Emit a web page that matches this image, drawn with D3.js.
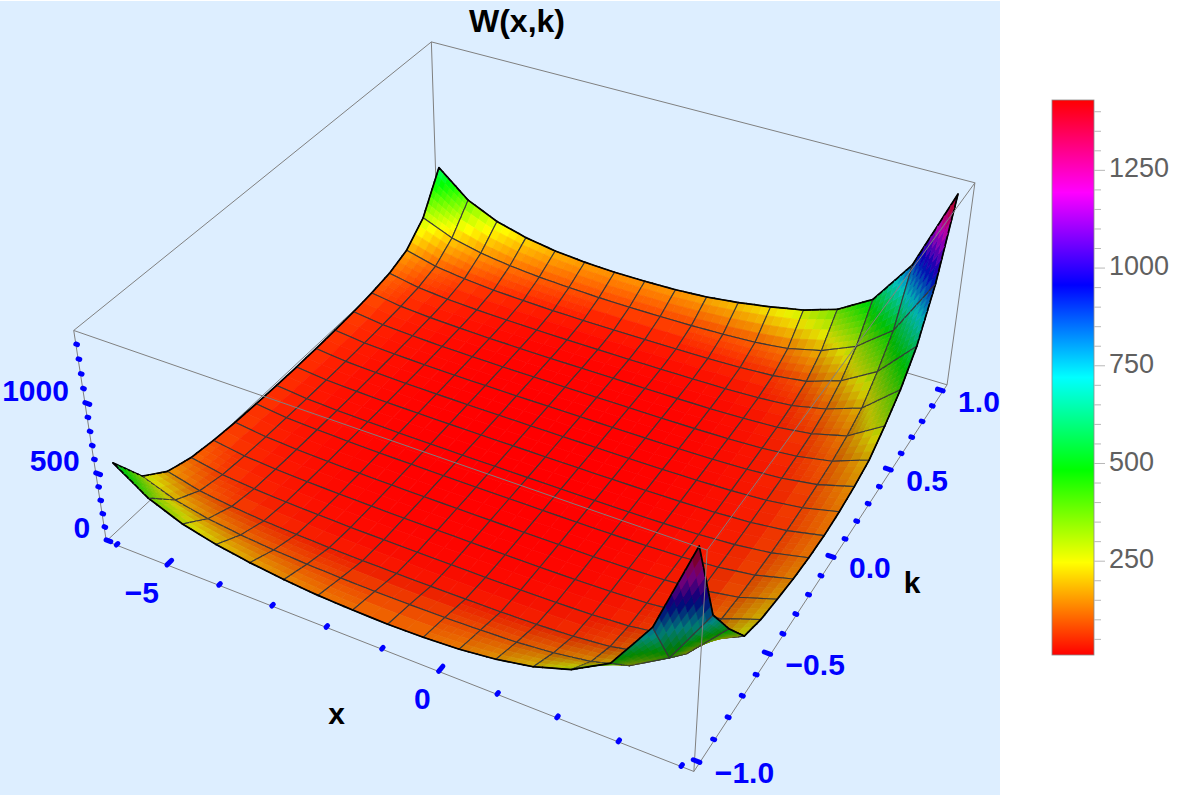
<!DOCTYPE html>
<html>
<head>
<meta charset="utf-8">
<script src="https://cdn.jsdelivr.net/npm/d3@7"></script>
<style>
  body { margin: 0; background: #fff; }
  svg { display: block; font-family: "Liberation Sans", Arial, sans-serif; }
</style>
</head>
<body>
<div id="chart"></div>
<script>
// grid the surface is sampled on
var xs = [-6, -5.375, -4.75, -4.125, -3.5, -2.875, -2.25, -1.625, -1, -0.375, 0.25, 0.875, 1.5, 2.125, 2.75, 3.375, 4];
var ks = [-1, -0.875, -0.75, -0.625, -0.5, -0.375, -0.25, -0.125, 0, 0.125, 0.25, 0.375, 0.5, 0.625, 0.75, 0.875, 1];

// W(x,k), one row per k value (k = -1 first)
var wRows = [
  [550, 380, 280, 220, 180, 150, 130, 120, 115, 120, 135, 165, 215, 300, 450, 800, 1430],
  [290, 200, 150, 120, 100, 88, 80, 77, 77, 80, 88, 100, 125, 165, 240, 400, 800],
  [165, 105, 75, 56, 45, 38, 34, 33, 33, 35, 38, 45, 58, 85, 140, 240, 520],
  [110, 66, 45, 33, 26, 21, 19, 18, 18, 19, 21, 25, 33, 50, 88, 150, 280],
  [85, 50, 34, 25, 19, 16, 14, 14, 14, 14, 15, 18, 25, 37, 64, 120, 215],
  [70, 41, 28, 20, 16, 13, 12, 12, 12, 12, 13, 15, 21, 31, 52, 96, 180],
  [62, 36, 25, 18, 14, 12, 11, 11, 11, 11, 12, 14, 19, 28, 46, 82, 150],
  [57, 33, 23, 17, 13, 11, 10, 10, 10, 10, 11, 13, 18, 26, 42, 74, 132],
  [55, 32, 22, 16, 13, 11, 10, 10, 10, 10, 11, 13, 17, 25, 40, 70, 125],
  [57, 33, 23, 17, 13, 11, 10, 10, 10, 10, 11, 13, 18, 26, 42, 75, 135],
  [62, 36, 25, 18, 14, 12, 11, 11, 11, 11, 12, 14, 19, 28, 47, 86, 160],
  [70, 41, 28, 20, 16, 13, 12, 12, 12, 12, 13, 15, 21, 32, 56, 104, 200],
  [85, 50, 34, 25, 19, 16, 14, 14, 14, 14, 15, 18, 25, 39, 72, 140, 300],
  [110, 66, 45, 33, 26, 21, 19, 18, 18, 19, 21, 25, 34, 55, 110, 200, 420],
  [165, 105, 75, 56, 45, 38, 34, 33, 33, 35, 38, 45, 60, 95, 180, 330, 600],
  [300, 205, 152, 120, 100, 88, 80, 77, 77, 80, 88, 100, 128, 190, 300, 500, 920],
  [580, 385, 280, 218, 180, 160, 150, 150, 155, 170, 200, 240, 290, 370, 520, 850, 1430]
];

var xTicks = [-6, -5, -4, -3, -2, -1, 0, 1, 2, 3, 4];
var xMajor = [-5, 0];
var kTicks = [-1, -0.9, -0.8, -0.7, -0.6, -0.5, -0.4, -0.3, -0.2, -0.1, 0, 0.1, 0.2, 0.3, 0.4, 0.5, 0.6, 0.7, 0.8, 0.9, 1];
var kMajor = [-1, -0.5, 0, 0.5, 1];
var zTicks = [0, 100, 200, 300, 400, 500, 600, 700, 800, 900, 1000, 1100, 1200, 1300, 1400];
var zMajor = [0, 500, 1000];
var barTicks = [50, 100, 150, 200, 250, 300, 350, 400, 450, 500, 550, 600, 650, 700, 750, 800, 850, 900, 950, 1000, 1050, 1100, 1150, 1200, 1250, 1300, 1350, 1400];
var barMajor = [250, 500, 750, 1000, 1250];

var width = 1187, height = 795;
var svg = d3.select('#chart').append('svg').attr('width', width).attr('height', height);
svg.append('rect').attr('x', 0).attr('y', 1).attr('width', 1000).attr('height', height - 1).attr('fill', '#ddeeff');

// box extents (plot range with padding)
var xScale = d3.scaleLinear().domain([-6.2, 4.2]).range([0, 1]);
var kScale = d3.scaleLinear().domain([-1.04, 1.04]).range([0, 1]);
var zScale = d3.scaleLinear().domain([-10, 1490]).range([0, 1]);

// camera: fit a projective map from where the box corners sit on screen
var boxCorners = [
  [0, 0, 0, 107, 541], [1, 0, 0, 694, 772], [1, 1, 0, 947, 385], [0, 1, 0, 437, 232],
  [0, 0, 1, 73, 331], [1, 0, 1, 707, 549], [1, 1, 1, 975, 183], [0, 1, 1, 432, 42]
];

function fitCamera(pts) {
  var A = [], b = [];
  pts.forEach(function(p) {
    var X = p[0], Y = p[1], Z = p[2], u = (p[3] - 500) / 500, v = (p[4] - 400) / 500;
    A.push([X, Y, Z, 1, 0, 0, 0, 0, -u * X, -u * Y, -u * Z]); b.push(u);
    A.push([0, 0, 0, 0, X, Y, Z, 1, -v * X, -v * Y, -v * Z]); b.push(v);
  });
  var n = 11, M = [], r = [];
  for (let i = 0; i < n; i++) {
    M[i] = [];
    for (let j = 0; j < n; j++) {
      let s = 0;
      for (let q = 0; q < A.length; q++) s += A[q][i] * A[q][j];
      M[i][j] = s;
    }
    let t = 0;
    for (let q = 0; q < A.length; q++) t += A[q][i] * b[q];
    r[i] = t;
  }
  for (let c = 0; c < n; c++) {
    let piv = c;
    for (let i = c + 1; i < n; i++) if (Math.abs(M[i][c]) > Math.abs(M[piv][c])) piv = i;
    [M[c], M[piv]] = [M[piv], M[c]];
    [r[c], r[piv]] = [r[piv], r[c]];
    for (let i = c + 1; i < n; i++) {
      let f = M[i][c] / M[c][c];
      for (let j = c; j < n; j++) M[i][j] -= f * M[c][j];
      r[i] -= f * r[c];
    }
  }
  var p = [];
  for (let i = n - 1; i >= 0; i--) {
    let s = r[i];
    for (let j = i + 1; j < n; j++) s -= M[i][j] * p[j];
    p[i] = s / M[i][i];
  }
  return p;
}

var P = fitCamera(boxCorners);
function rawDepth(u, v, w) { return P[8] * u + P[9] * v + P[10] * w + 1; }
var farSign = rawDepth(0, 1, 0) > rawDepth(1, 0, 1) ? 1 : -1;

function projN(u, v, w) {
  var d = rawDepth(u, v, w);
  return [
    ((P[0] * u + P[1] * v + P[2] * w + P[3]) / d) * 500 + 500,
    ((P[4] * u + P[5] * v + P[6] * w + P[7]) / d) * 500 + 400,
    d * farSign
  ];
}
function proj(x, k, z) { return projN(xScale(x), kScale(k), zScale(z)); }

var vmin = d3.min(wRows, function(r) { return d3.min(r); });
var vmax = d3.max(wRows, function(r) { return d3.max(r); });
var hue = d3.scaleLinear().domain([vmin, vmax]).range([0, 360]).clamp(true);
function hueColor(v) { return d3.rgb(d3.hsl(hue(v), 1, 0.5)); }

var vis = svg.append('g');
var backEdges = vis.append('g'), surface = vis.append('g'), frontEdges = vis.append('g'), axes = vis.append('g');

var edgeList = [
  {a: [0, 1, 1], b: [1, 1, 1], back: true}, {a: [0, 1, 1], b: [0, 0, 1], back: true},
  {a: [0, 1, 1], b: [0, 1, 0], back: true}, {a: [0, 1, 0], b: [0, 0, 0], back: true},
  {a: [0, 1, 0], b: [1, 1, 0], back: true},
  {a: [0, 0, 1], b: [1, 0, 1]}, {a: [1, 0, 1], b: [1, 1, 1]}, {a: [1, 0, 1], b: [1, 0, 0]},
  {a: [0, 0, 1], b: [0, 0, 0]}, {a: [0, 0, 0], b: [1, 0, 0]}, {a: [1, 0, 0], b: [1, 1, 0]},
  {a: [1, 1, 0], b: [1, 1, 1]}
];
edgeList.forEach(function(e) {
  var p1 = projN(e.a[0], e.a[1], e.a[2]), p2 = projN(e.b[0], e.b[1], e.b[2]);
  (e.back ? backEdges : frontEdges).append('path')
    .attr('d', 'M ' + p1[0] + ' ' + p1[1] + ' L ' + p2[0] + ' ' + p2[1])
    .style('stroke', '#808080').style('stroke-width', 1).style('fill', 'none');
});

// surface: each mesh cell is drawn as bilinear patches so colours blend
var nx = xs.length - 1, nk = ks.length - 1;
var patches = [];
for (let j = 0; j < nk; j++) {
  for (let i = 0; i < nx; i++) {
    let z00 = wRows[j][i], z10 = wRows[j][i + 1], z11 = wRows[j + 1][i + 1], z01 = wRows[j + 1][i];
    let spread = d3.max([z00, z10, z11, z01]) - d3.min([z00, z10, z11, z01]);
    let SUB = spread > 250 ? 7 : spread > 50 ? 4 : 2;
    let at = function(s, t) {
      let z = (1 - s) * (1 - t) * z00 + s * (1 - t) * z10 + s * t * z11 + (1 - s) * t * z01;
      let x = xs[i] + s * (xs[i + 1] - xs[i]), k = ks[j] + t * (ks[j + 1] - ks[j]);
      return {z: z, p: proj(x, k, z), b: [xScale(x), kScale(k), zScale(z) * 0.4]};
    };
    // one shading normal per mesh cell keeps the light smooth inside it
    let c0 = at(0, 0), c1 = at(1, 0), c2 = at(1, 1), c3 = at(0, 1);
    let d1 = [c2.b[0] - c0.b[0], c2.b[1] - c0.b[1], c2.b[2] - c0.b[2]];
    let d2 = [c3.b[0] - c1.b[0], c3.b[1] - c1.b[1], c3.b[2] - c1.b[2]];
    let nrm = [d1[1] * d2[2] - d1[2] * d2[1], d1[2] * d2[0] - d1[0] * d2[2], d1[0] * d2[1] - d1[1] * d2[0]];
    if (nrm[2] < 0) nrm = nrm.map(function(c) { return -c; });
    let len = Math.hypot(nrm[0], nrm[1], nrm[2]);
    nrm = nrm.map(function(c) { return c / len; });
    let shade = Math.max(0.4, 1 + 0.42 * Math.min(0, nrm[0]) - 0.35 * Math.max(0, nrm[1]));
    for (let b = 0; b < SUB; b++) {
      for (let a = 0; a < SUB; a++) {
        let q = [at(a / SUB, b / SUB), at((a + 1) / SUB, b / SUB), at((a + 1) / SUB, (b + 1) / SUB), at(a / SUB, (b + 1) / SUB)];
        let mean = d3.mean(q, function(d) { return d.z; });
        let c = hueColor(mean);
        let col = d3.rgb(c.r * shade, c.g * shade, c.b * shade);
        let mesh = [], border = [];
        if (b === 0) { mesh.push([0, 1]); if (j === 0) border.push([0, 1]); }
        if (a === SUB - 1) { mesh.push([1, 2]); if (i === nx - 1) border.push([1, 2]); }
        if (b === SUB - 1) { mesh.push([2, 3]); if (j === nk - 1) border.push([2, 3]); }
        if (a === 0) { mesh.push([3, 0]); if (i === 0) border.push([3, 0]); }
        patches.push({
          pts: q.map(function(d) { return d.p; }),
          depth: d3.mean(q, function(d) { return d.p[2]; }),
          color: col.toString(), mesh: mesh, border: border
        });
      }
    }
  }
}
patches.sort(function(a, b) { return b.depth - a.depth; });

function segs(d, list) {
  return list.map(function(e) {
    return 'M' + d.pts[e[0]][0] + ',' + d.pts[e[0]][1] + 'L' + d.pts[e[1]][0] + ',' + d.pts[e[1]][1];
  }).join('');
}
var patchG = surface.selectAll('g.patch').data(patches).enter().append('g').attr('class', 'patch');
patchG.append('path')
  .attr('d', function(d) { return 'M' + d.pts.map(function(p) { return p[0] + ',' + p[1]; }).join('L') + 'Z'; })
  .style('fill', function(d) { return d.color; })
  .style('stroke', function(d) { return d.color; })
  .style('stroke-width', 0.7);
patchG.filter(function(d) { return d.mesh.length > 0; }).append('path')
  .attr('d', function(d) { return segs(d, d.mesh); })
  .style('fill', 'none').style('stroke', '#383838').style('stroke-width', 1.1).style('stroke-linecap', 'round');
patchG.filter(function(d) { return d.border.length > 0; }).append('path')
  .attr('d', function(d) { return segs(d, d.border); })
  .style('fill', 'none').style('stroke', '#000').style('stroke-width', 1.7).style('stroke-linecap', 'round');

// ticks
var blue = '#0000ff';
function tick(a, b, w) {
  axes.append('path')
    .attr('d', 'M ' + a[0] + ' ' + a[1] + ' L ' + b[0] + ' ' + b[1])
    .style('stroke', blue).style('stroke-width', w).style('stroke-linecap', 'round');
}
var labelFont = 30;

xTicks.forEach(function(t) {
  var major = xMajor.indexOf(t) >= 0;
  var u = xScale(t);
  tick(projN(u, 0, 0), projN(u, major ? 0.012 : 0.004, 0), 5);
  if (major) {
    var p = projN(u, 0, 0);
    axes.append('text').attr('x', p[0] - 8).attr('y', p[1] + 30)
      .attr('text-anchor', 'end').attr('dominant-baseline', 'middle')
      .style('font-size', labelFont + 'px').style('font-weight', 'bold').style('fill', blue)
      .text(String(t).replace('-', '\u2212'));
  }
});
kTicks.forEach(function(t) {
  var major = kMajor.indexOf(t) >= 0;
  var v = kScale(t);
  tick(projN(1, v, 0), projN(major ? 0.99 : 0.997, v, 0), 5);
  if (major) {
    var p = projN(1, v, 0);
    axes.append('text').attr('x', p[0] + 15).attr('y', p[1] + 13)
      .attr('text-anchor', 'start').attr('dominant-baseline', 'middle')
      .style('font-size', labelFont + 'px').style('font-weight', 'bold').style('fill', blue)
      .text(d3.format('.1f')(t).replace('-', '\u2212'));
  }
});
zTicks.forEach(function(t) {
  var major = zMajor.indexOf(t) >= 0;
  var w = zScale(t);
  tick(projN(0, 0, w), projN(major ? 0.009 : 0.003, 0, w), 5);
  if (major) {
    var p = projN(0, 0, w);
    axes.append('text').attr('x', p[0] - 16).attr('y', p[1] - 10)
      .attr('text-anchor', 'end').attr('dominant-baseline', 'middle')
      .style('font-size', labelFont + 'px').style('font-weight', 'bold').style('fill', blue)
      .text(t);
  }
});

// axis names and title
var xMid = proj(-1, -1.04, -10), kMid = proj(4.2, 0, -10);
axes.append('text').attr('x', xMid[0] - 45).attr('y', xMid[1] + 67)
  .attr('text-anchor', 'middle').attr('dominant-baseline', 'middle')
  .style('font-size', '30px').style('font-weight', 'bold').text('x');
axes.append('text').attr('x', kMid[0] + 78).attr('y', kMid[1] + 28)
  .attr('text-anchor', 'middle').attr('dominant-baseline', 'middle')
  .style('font-size', '30px').style('font-weight', 'bold').text('k');
svg.append('text').attr('x', 517).attr('y', 24)
  .attr('text-anchor', 'middle').attr('dominant-baseline', 'middle')
  .style('font-size', '32px').style('font-weight', 'bold').text('W(x,k)');

// colour bar
var barX = 1052, barW = 42, barTop = 100, barBottom = 655;
var barScale = d3.scaleLinear().domain([vmin, vmax]).range([barBottom, barTop]);
var grad = svg.append('defs').append('linearGradient').attr('id', 'hueGrad')
  .attr('x1', 0).attr('y1', 1).attr('x2', 0).attr('y2', 0);
d3.range(0, 13).forEach(function(s) {
  grad.append('stop').attr('offset', s / 12).attr('stop-color', d3.hsl(s * 30, 1, 0.5).toString());
});
svg.append('rect').attr('x', barX).attr('y', barTop).attr('width', barW).attr('height', barBottom - barTop)
  .attr('fill', 'url(#hueGrad)').style('stroke', '#8a8a8a').style('stroke-width', 0.8);
var bar = svg.append('g');
bar.selectAll('line').data(barTicks).enter().append('line')
  .attr('x1', barX + barW).attr('x2', function(d) { return barX + barW + (barMajor.indexOf(d) >= 0 ? 11 : 7); })
  .attr('y1', function(d) { return barScale(d); }).attr('y2', function(d) { return barScale(d); })
  .style('stroke', '#b8b8b8').style('stroke-width', 1);
bar.selectAll('text').data(barMajor).enter().append('text')
  .attr('x', barX + barW + 15).attr('y', function(d) { return barScale(d); })
  .attr('dominant-baseline', 'middle')
  .style('font-size', '27px').style('fill', '#606060')
  .text(function(d) { return d; });
</script>
</body>
</html>
